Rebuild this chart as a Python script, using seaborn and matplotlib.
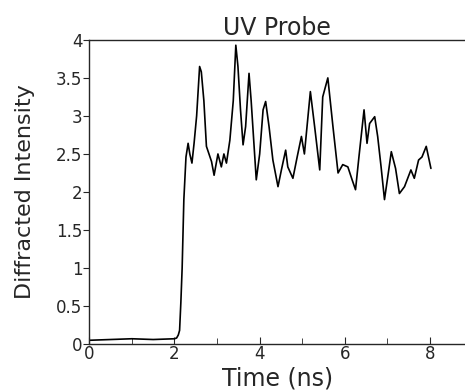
import matplotlib
matplotlib.use("Agg")
import matplotlib.pyplot as plt
import seaborn as sns
import pandas as pd

# time (ns) and diffracted intensity
time_ns = [0.0, 0.5, 1.0, 1.5, 2.0, 2.05, 2.09, 2.12, 2.15, 2.18, 2.22, 2.27,
           2.32, 2.36, 2.41, 2.46, 2.52, 2.59, 2.63, 2.69, 2.75, 2.87, 2.93,
           3.02, 3.10, 3.16, 3.22, 3.30, 3.38, 3.44, 3.49, 3.55, 3.61, 3.67,
           3.75, 3.80, 3.92, 4.00, 4.08, 4.14, 4.22, 4.31, 4.43, 4.51, 4.61,
           4.66, 4.78, 4.88, 4.98, 5.05, 5.19, 5.29, 5.41, 5.48, 5.60, 5.72,
           5.84, 5.95, 6.07, 6.17, 6.25, 6.33, 6.45, 6.52, 6.58, 6.70, 6.77,
           6.85, 6.93, 7.03, 7.09, 7.19, 7.28, 7.40, 7.55, 7.63, 7.73, 7.81,
           7.91, 8.02]
intensity = [0.05, 0.06, 0.07, 0.06, 0.07, 0.08, 0.12, 0.18, 0.55, 1.0, 1.9,
             2.46, 2.64, 2.5, 2.38, 2.64, 3.0, 3.65, 3.58, 3.2, 2.6, 2.4, 2.22,
             2.5, 2.33, 2.5, 2.38, 2.68, 3.2, 3.93, 3.65, 3.08, 2.62, 2.86,
             3.56, 3.2, 2.16, 2.5, 3.08, 3.19, 2.86, 2.42, 2.07, 2.29, 2.55,
             2.33, 2.18, 2.46, 2.73, 2.5, 3.32, 2.86, 2.29, 3.25, 3.5, 2.86,
             2.25, 2.36, 2.33, 2.16, 2.03, 2.46, 3.08, 2.64, 2.9, 2.99, 2.73,
             2.33, 1.9, 2.29, 2.53, 2.31, 1.98, 2.07, 2.29, 2.18, 2.42, 2.46,
             2.6, 2.31]

df = pd.DataFrame({"Time (ns)": time_ns, "Diffracted Intensity": intensity})

sns.set_style("ticks")
plt.rcParams["font.family"] = ["DejaVu Sans"]

fig = plt.figure(figsize=(4.65, 3.91), dpi=100)
ax = fig.add_axes([0.192, 0.120, 0.808, 0.778])
sns.lineplot(data=df, x="Time (ns)", y="Diffracted Intensity", ax=ax,
             color="black", linewidth=1.2)

ax.set_xlim(0, 8.82)
ax.set_ylim(0, 4)
ax.set_xticks([0, 2, 4, 6, 8])
ax.set_xticks([1, 3, 5, 7], minor=True)
ax.set_yticks([0, 0.5, 1, 1.5, 2, 2.5, 3, 3.5, 4])
ax.set_yticklabels(["0", "0.5", "1", "1.5", "2", "2.5", "3", "3.5", "4"])
ax.tick_params(axis="x", direction="in", length=5, labelsize=12, pad=1)
ax.tick_params(axis="x", which="minor", direction="in", length=4)
ax.tick_params(axis="y", direction="out", length=4, labelsize=12, pad=1)
ax.spines["right"].set_visible(False)
for s in ax.spines.values():
    s.set_linewidth(1.0)

ax.set_title("UV Probe", fontsize=17, pad=3)
ax.set_xlabel("Time (ns)", fontsize=17)
ax.xaxis.set_label_coords(0.5, -0.112)
ax.xaxis.label.set_va("center")
ax.set_ylabel("Diffracted Intensity", fontsize=16)
ax.yaxis.set_label_coords(-0.17, 0.5)
ax.yaxis.label.set_va("center")

fig.savefig("out.png", dpi=100)
